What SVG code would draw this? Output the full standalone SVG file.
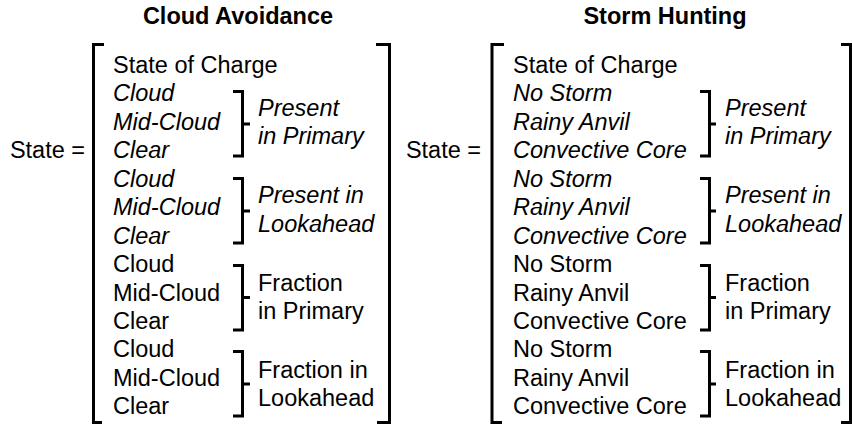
<svg xmlns="http://www.w3.org/2000/svg" width="852" height="425" viewBox="0 0 852 425">
<style>
text{font-family:"Liberation Sans",Arial,sans-serif;font-size:23.5px;fill:#000}
.t{font-weight:bold;text-anchor:middle}
.i{font-style:italic}
.e{text-anchor:end}
.b{fill:none;stroke:#000;stroke-width:3;stroke-linejoin:miter;stroke-linecap:butt}
</style>
<rect width="852" height="425" fill="#fff"/>
<g id="cloud">
<text class="t" x="238" y="24">Cloud Avoidance</text>
<text class="e" x="85" y="158">State =</text>
<path class="b" d="M104,44.5 H93.5 V422.5 H102 M376,44.5 H389.5 V422.5 H377"/>
<text x="113" y="73">State of Charge</text>
<g class="i"><text x="113" y="101">Cloud</text><text x="113" y="129.5">Mid-Cloud</text><text x="113" y="158">Clear</text>
<text x="113" y="186.5">Cloud</text><text x="113" y="215">Mid-Cloud</text><text x="113" y="243.5">Clear</text></g>
<text x="113" y="272">Cloud</text><text x="113" y="300.5">Mid-Cloud</text><text x="113" y="329">Clear</text>
<text x="113" y="357">Cloud</text><text x="113" y="385.5">Mid-Cloud</text><text x="113" y="414">Clear</text>
<path class="b" d="M233,91.5 H242.5 V156 H233 M242.5,124 H250"/>
<path class="b" d="M233,178.5 H242.5 V243 H233 M242.5,211 H250"/>
<path class="b" d="M233,265.5 H242.5 V330 H233 M242.5,297.5 H250"/>
<path class="b" d="M233,351.5 H242.5 V416 H233 M242.5,384 H250"/>
<text class="i" x="258" y="116">Present</text><text class="i" x="258" y="144">in Primary</text>
<text class="i" x="258" y="203">Present in</text><text class="i" x="258" y="232">Lookahead</text>
<text x="258" y="291">Fraction</text><text x="258" y="319">in Primary</text>
<text x="258" y="378">Fraction in</text><text x="258" y="406">Lookahead</text>
</g>
<g id="storm">
<text class="t" x="665" y="24">Storm Hunting</text>
<text class="e" x="481" y="158">State =</text>
<path class="b" d="M504,44.5 H492 V422.5 H502 M841,44.5 H850.5 V422.5 H841"/>
<text x="513" y="73">State of Charge</text>
<g class="i"><text x="513" y="101">No Storm</text><text x="513" y="129.5">Rainy Anvil</text><text x="513" y="158">Convective Core</text>
<text x="513" y="186.5">No Storm</text><text x="513" y="215">Rainy Anvil</text><text x="513" y="243.5">Convective Core</text></g>
<text x="513" y="272">No Storm</text><text x="513" y="300.5">Rainy Anvil</text><text x="513" y="329">Convective Core</text>
<text x="513" y="357">No Storm</text><text x="513" y="385.5">Rainy Anvil</text><text x="513" y="414">Convective Core</text>
<path class="b" d="M700,91.5 H709.5 V156 H700 M709.5,124 H716"/>
<path class="b" d="M700,178.5 H709.5 V243 H700 M709.5,211 H716"/>
<path class="b" d="M700,265.5 H709.5 V330 H700 M709.5,297.5 H716"/>
<path class="b" d="M700,351.5 H709.5 V416 H700 M709.5,384 H716"/>
<text class="i" x="725" y="116">Present</text><text class="i" x="725" y="144">in Primary</text>
<text class="i" x="725" y="203">Present in</text><text class="i" x="725" y="232">Lookahead</text>
<text x="725" y="291">Fraction</text><text x="725" y="319">in Primary</text>
<text x="725" y="378">Fraction in</text><text x="725" y="406">Lookahead</text>
</g>
</svg>
